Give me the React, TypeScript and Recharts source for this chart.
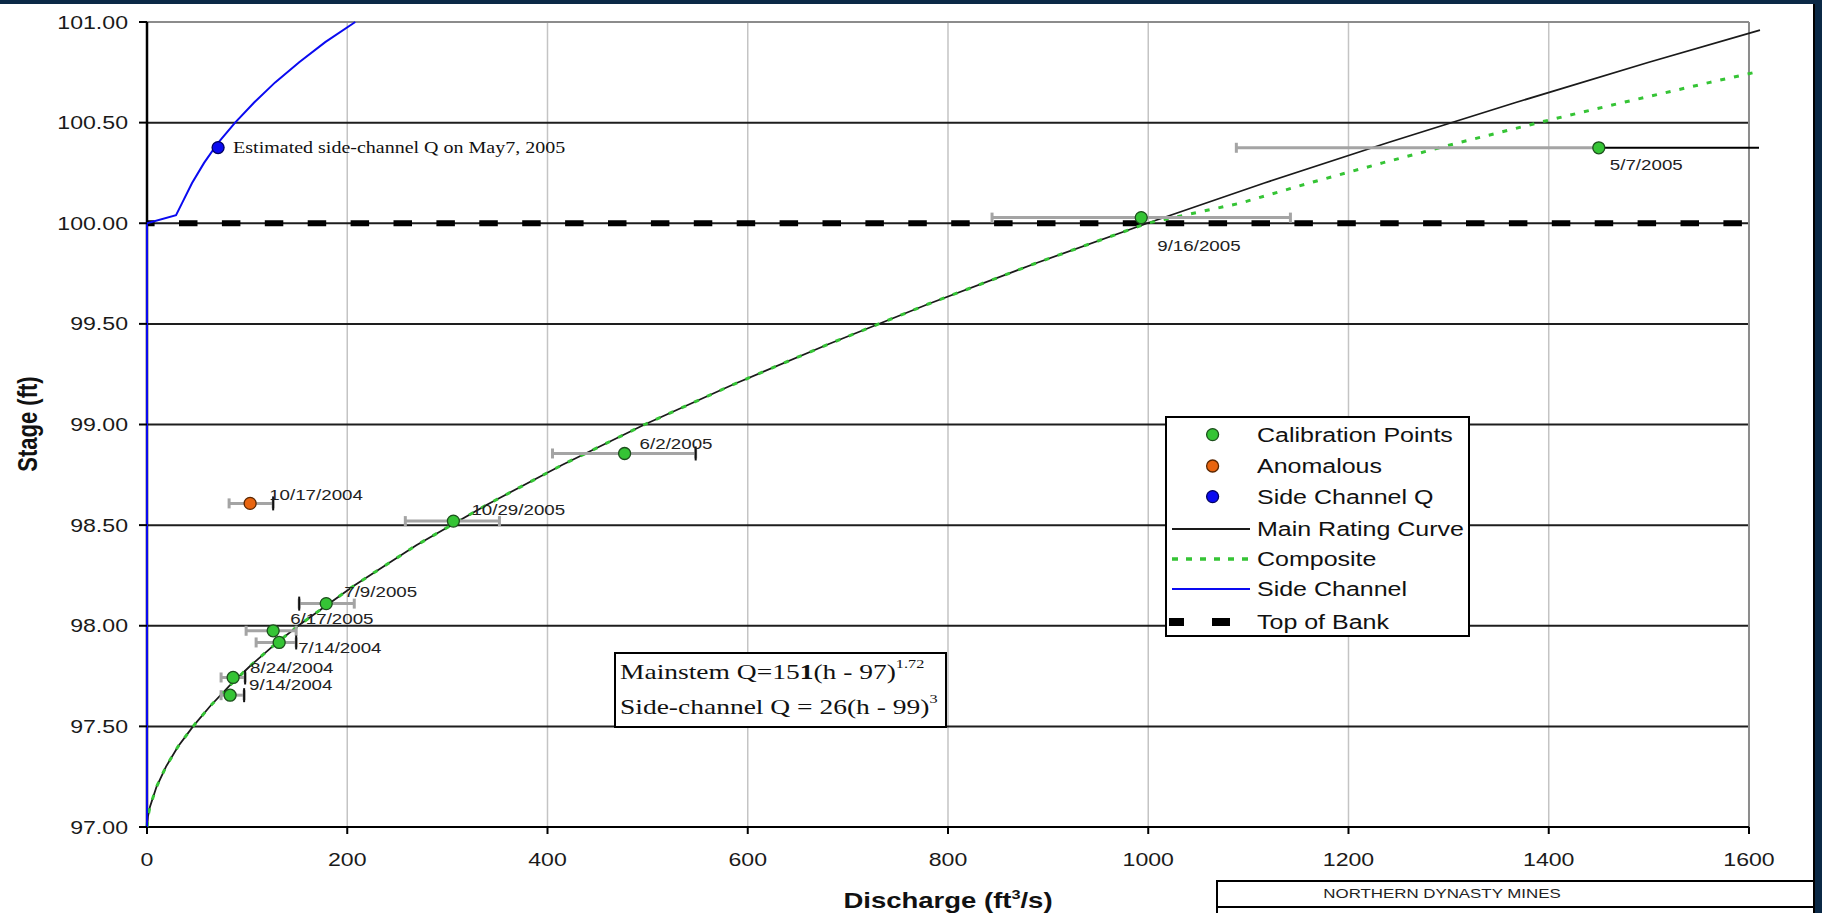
import React from 'react';
import { ComposedChart, Line, Scatter, XAxis, YAxis, ErrorBar } from 'recharts';

// ---------- axis ticks ----------
const xTicks = [0, 200, 400, 600, 800, 1000, 1200, 1400, 1600];
const yTicks = [97, 97.5, 98, 98.5, 99, 99.5, 100, 100.5, 101];

// ---------- Main rating curve ----------
const mainStage = [97.0, 97.05, 97.1, 97.2, 97.3, 97.4, 97.5, 97.6, 97.7, 97.8, 97.9, 98.0, 98.2, 98.4, 98.6, 98.8, 99.0, 99.2, 99.4, 99.6, 99.8, 100.0, 100.2, 100.4, 100.6, 100.8, 100.96];
const mainQ = [0, 0.9, 2.9, 9.5, 19, 31, 46, 63, 82, 103, 126, 151, 207, 269, 339, 415, 497, 586, 681, 781, 887, 999, 1116, 1239, 1367, 1500, 1611];

// ---------- Composite curve ----------
const compStage = [97.0, 97.05, 97.1, 97.2, 97.3, 97.4, 97.5, 97.6, 97.7, 97.8, 97.9, 98.0, 98.2, 98.4, 98.6, 98.8, 99.0, 99.2, 99.4, 99.6, 99.8, 100.0, 100.1, 100.2, 100.3, 100.4, 100.5, 100.6, 100.7, 100.75];
const compQ = [0, 0.9, 2.9, 9.5, 19, 31, 46, 63, 82, 103, 126, 151, 207, 269, 339, 415, 497, 586, 681, 781, 887, 999, 1092, 1161, 1234, 1310, 1390, 1474, 1561, 1606];

// ---------- Side channel curve ----------
const sideStage = [97.0, 100.0, 100.04, 100.1, 100.2, 100.3, 100.4, 100.5, 100.6, 100.7, 100.8, 100.9, 101.0];
const sideQ = [0, 0, 29, 35, 45, 57, 71, 88, 107, 128, 152, 178, 208];

// ---------- Top of bank ----------
const bankQ = [0, 1600];
const bankStage = 100.0;

// ---------- Calibration points ----------
const calLabels = ['9/14/2004', '8/24/2004', '7/14/2004', '6/17/2005', '7/9/2005', '10/29/2005', '6/2/2005', '9/16/2005', '5/7/2005'];
const calQ = [83, 86, 132, 126, 179, 306, 477, 993, 1450];
const calStage = [97.655, 97.743, 97.917, 97.975, 98.11, 98.52, 98.856, 100.028, 100.375];
const calQLow = [74, 74, 109, 99, 152, 258, 405, 844, 1088];
const calQHigh = [97, 98, 149, 149, 207, 352, 548, 1142, 1450];
const mayTailQ = [1450, 1610];
const mayTailStage = 100.375;

// ---------- Anomalous ----------
const anomLabels = ['10/17/2004'];
const anomQ = [103];
const anomStage = [98.608];
const anomQLow = [82];
const anomQHigh = [126];

// ---------- Black end caps seen on some error bars ----------
const capQ = [152, 149, 98, 97, 548, 126];
const capStage = [98.11, 97.917, 97.743, 97.655, 98.856, 98.608];

// ---------- Side channel Q ----------
const sideQLabels = ['Estimated side-channel Q on May7, 2005'];
const sidePtQ = [71];
const sidePtStage = [100.376];

// ---------- styles ----------
const SANS = "'Liberation Sans', Arial, Helvetica, sans-serif";
const SERIF = "'Liberation Serif', 'Times New Roman', serif";
const SX = 1.25;
const NAVY = '#0b2946';
const GREEN = '#35c435';
const ORANGE = '#e8640f';
const BLUE = '#0a0af0';

const labelOffsets: Record<string, [number, number]> = {
  '9/14/2004': [19, -11],
  '8/24/2004': [17, -10],
  '7/14/2004': [19, 5],
  '6/17/2005': [17, -12],
  '7/9/2005': [18, -12],
  '10/29/2005': [18, -12],
  '6/2/2005': [15, -10],
  '9/16/2005': [16, 28],
  '5/7/2005': [11, 17],
  '10/17/2004': [19, -9],
};

// ---------- built tables ----------
const toLine = (qs: number[], hs: number[]) => qs.map((q, i) => ({ q, h: hs[i] }));
const mainData = toLine(mainQ, mainStage);
const compData = toLine(compQ, compStage);
const sideData = toLine(sideQ, sideStage);
const bankData = bankQ.map((q) => ({ q, h: bankStage }));
const mayTail = mayTailQ.map((q) => ({ q, h: mayTailStage }));
const calData = calQ.map((q, i) => ({ q, h: calStage[i], label: calLabels[i], err: [q - calQLow[i], calQHigh[i] - q] }));
const anomData = anomQ.map((q, i) => ({ q, h: anomStage[i], label: anomLabels[i], err: [q - anomQLow[i], anomQHigh[i] - q] }));
const capData = toLine(capQ, capStage);
const sidePtData = sidePtQ.map((q, i) => ({ q, h: sidePtStage[i], label: sideQLabels[i] }));

const xMax = xTicks[xTicks.length - 1];
const yMin = yTicks[0];
const yMax = yTicks[yTicks.length - 1];
const vGrid = xTicks.slice(1, -1).map((q) => [{ q, h: yMin }, { q, h: yMax }]);
const hGrid = yTicks.slice(1, -1).map((h) => [{ q: 0, h }, { q: xMax, h }]);
const topBorder = [{ q: 0, h: yMax }, { q: xMax, h: yMax }];
const rightBorder = [{ q: xMax, h: yMin }, { q: xMax, h: yMax }];
const yAxisLine = [{ q: 0, h: yMin }, { q: 0, h: yMax }];
const xAxisLine = [{ q: 0, h: yMin }, { q: xMax, h: yMin }];

const ST = ({ x, y, size, anchor = 'start', weight = 'normal', family = SANS, fill = '#111', children }: any) => (
  <text transform={`translate(${x},${y}) scale(${SX},1)`} fontSize={size} textAnchor={anchor} fontWeight={weight} fontFamily={family} fill={fill}>
    {children}
  </text>
);

const XTick = (p: any) => (
  <g transform={`translate(${p.x},${p.y})`}>
    <text transform={`scale(${SX},1)`} textAnchor="middle" dy="0.71em" fontSize={18.5} fontFamily={SANS} fill="#1a1a1a">
      {p.payload.value}
    </text>
  </g>
);

const YTick = (p: any) => (
  <g transform={`translate(${p.x},${p.y})`}>
    <text transform={`scale(${SX},1)`} textAnchor="end" dy="0.355em" fontSize={18.5} fontFamily={SANS} fill="#1a1a1a">
      {Number(p.payload.value).toFixed(2)}
    </text>
  </g>
);

const Dot = (fill: string, stroke: string) => (p: any) => {
  const { cx, cy, payload } = p;
  if (cx == null || cy == null) return <g />;
  const off = labelOffsets[payload.label];
  return (
    <g>
      <circle cx={cx} cy={cy} r={6} fill={fill} stroke={stroke} strokeWidth={1.3} />
      {off && (
        <ST x={cx + off[0]} y={cy + off[1] + 5.4} size={15} fill="#222">
          {payload.label}
        </ST>
      )}
    </g>
  );
};

const CapMark = (p: any) => {
  const { cx, cy } = p;
  if (cx == null || cy == null) return <g />;
  return <line x1={cx} x2={cx} y1={cy - 7} y2={cy + 7} stroke="#111" strokeWidth={2} />;
};

const SideDot = (p: any) => {
  const { cx, cy, payload } = p;
  if (cx == null || cy == null) return <g />;
  return (
    <g>
      <circle cx={cx} cy={cy} r={6} fill={BLUE} stroke="#000060" strokeWidth={1.3} />
      <ST x={cx + 15} y={cy + 5} size={16} family={SERIF} fill="#111">
        {payload.label}
      </ST>
    </g>
  );
};

const lineCommon = { dot: false, activeDot: false, isAnimationActive: false, legendType: 'none' as const, type: 'linear' as const, dataKey: 'h' };

export default function App() {
  return (
    <div style={{ position: 'absolute', left: 0, top: 0, width: 1822, height: 913, background: NAVY, overflow: 'hidden' }}>
      <div style={{ position: 'absolute', left: 0, top: 4, width: 1814, height: 909, background: '#fff' }} />
      <div style={{ position: 'absolute', left: 1813, top: 4, width: 2, height: 909, background: '#000' }} />
      <div style={{ position: 'absolute', left: 0, top: 0 }}>
        <ComposedChart width={1822} height={913} margin={{ top: 22, right: 61, bottom: 56, left: 0 }}>
          <XAxis
            type="number"
            dataKey="q"
            domain={[0, 1612]}
            ticks={xTicks}
            interval={0}
            height={30}
            tickSize={7}
            tickMargin={19}
            axisLine={false}
            tickLine={{ stroke: '#000', strokeWidth: 2 }}
            tick={(p: any) => <XTick {...p} />}
          />
          <YAxis
            type="number"
            dataKey="h"
            domain={[97, 101]}
            ticks={yTicks}
            interval={0}
            width={147}
            tickSize={8}
            tickMargin={11}
            axisLine={false}
            tickLine={{ stroke: '#000', strokeWidth: 2 }}
            tick={(p: any) => <YTick {...p} />}
          />
          {vGrid.map((d, i) => (
            <Line key={'v' + i} {...lineCommon} data={d} stroke="#c4c4c4" strokeWidth={1.5} />
          ))}
          {hGrid.map((d, i) => (
            <Line key={'h' + i} {...lineCommon} data={d} stroke="#1e1e1e" strokeWidth={2} />
          ))}
          <Line {...lineCommon} data={topBorder} stroke="#8c8c8c" strokeWidth={2} />
          <Line {...lineCommon} data={rightBorder} stroke="#8c8c8c" strokeWidth={2} />
          <Line {...lineCommon} data={yAxisLine} stroke="#000" strokeWidth={2.5} />
          <Line {...lineCommon} data={xAxisLine} stroke="#000" strokeWidth={2} />
          <Line {...lineCommon} data={bankData} stroke="#000" strokeWidth={6} strokeDasharray="18.5 24.4" strokeDashoffset={10.9} />
          <Line {...lineCommon} data={mainData} stroke="#1a1a1a" strokeWidth={1.8} />
          <Line {...lineCommon} data={compData} stroke={GREEN} strokeWidth={3} strokeDasharray="5 9" />
          <Line {...lineCommon} data={sideData} stroke={BLUE} strokeWidth={2} />
          <Line {...lineCommon} data={mayTail} stroke="#000" strokeWidth={2} />
          <Scatter data={calData} isAnimationActive={false} legendType="none" shape={() => <g />}>
            <ErrorBar dataKey="err" direction="x" width={5} stroke="#a4a4a4" strokeWidth={3} isAnimationActive={false} />
          </Scatter>
          <Scatter data={anomData} isAnimationActive={false} legendType="none" shape={() => <g />}>
            <ErrorBar dataKey="err" direction="x" width={5} stroke="#a4a4a4" strokeWidth={3} isAnimationActive={false} />
          </Scatter>
          <Scatter data={capData} isAnimationActive={false} legendType="none" shape={CapMark} />
          <Scatter data={calData} isAnimationActive={false} legendType="none" shape={Dot(GREEN, '#1c4f1c')} />
          <Scatter data={anomData} isAnimationActive={false} legendType="none" shape={Dot(ORANGE, '#5a2600')} />
          <Scatter data={sidePtData} isAnimationActive={false} legendType="none" shape={SideDot} />
        </ComposedChart>
      </div>
      <svg width={1822} height={913} style={{ position: 'absolute', left: 0, top: 0, pointerEvents: 'none' }}>
        {/* axis titles */}
        <text transform={`translate(27,424) scale(${SX},1) rotate(-90)`} textAnchor="middle" dy="0.35em" fontSize={22} fontWeight="bold" fontFamily={SANS} fill="#111">
          Stage (ft)
        </text>
        <ST x={948} y={908} size={22} anchor="middle" weight="bold">
          Discharge (ft<tspan fontSize={13} dy={-9}>3</tspan>
          <tspan dy={9}>/s)</tspan>
        </ST>

        {/* legend */}
        <rect x={1166} y={417} width={303} height={219} fill="#fff" stroke="#000" strokeWidth={2} />
        <circle cx={1212.6} cy={434.6} r={6} fill={GREEN} stroke="#1c4f1c" strokeWidth={1.3} />
        <ST x={1257} y={441.8} size={20}>Calibration Points</ST>
        <circle cx={1212.6} cy={466} r={6} fill={ORANGE} stroke="#5a2600" strokeWidth={1.3} />
        <ST x={1257} y={473.2} size={20}>Anomalous</ST>
        <circle cx={1212.6} cy={496.6} r={6} fill={BLUE} stroke="#000060" strokeWidth={1.3} />
        <ST x={1257} y={503.8} size={20}>Side Channel Q</ST>
        <line x1={1172} x2={1250} y1={529} y2={529} stroke="#1a1a1a" strokeWidth={2} />
        <ST x={1257} y={536.2} size={20}>Main Rating Curve</ST>
        <line x1={1172} x2={1250} y1={559} y2={559} stroke={GREEN} strokeWidth={3.5} strokeDasharray="6 8" />
        <ST x={1257} y={566.2} size={20}>Composite</ST>
        <line x1={1172} x2={1250} y1={589} y2={589} stroke={BLUE} strokeWidth={2} />
        <ST x={1257} y={596.2} size={20}>Side Channel</ST>
        <rect x={1169} y={618} width={15} height={8} fill="#000" />
        <rect x={1212} y={618} width={18} height={8} fill="#000" />
        <ST x={1257} y={629.2} size={20}>Top of Bank</ST>

        {/* equation box */}
        <rect x={615} y={653} width={331} height={74} fill="#fff" stroke="#000" strokeWidth={2} />
        <ST x={620} y={679} size={22} family={SERIF} fill="#111">
          Mainstem Q=15<tspan fontWeight="bold">1</tspan>(h - 97)<tspan fontSize={13} dy={-11}>1.72</tspan>
        </ST>
        <ST x={620} y={714} size={22} family={SERIF} fill="#111">
          Side-channel Q = 26(h - 99)<tspan fontSize={13} dy={-11}>3</tspan>
        </ST>

        {/* title block */}
        <line x1={1217} x2={1814} y1={881} y2={881} stroke="#000" strokeWidth={2} />
        <line x1={1217} x2={1814} y1={907} y2={907} stroke="#000" strokeWidth={2} />
        <line x1={1217} x2={1217} y1={880} y2={913} stroke="#000" strokeWidth={2} />
        <ST x={1442} y={898} size={13.5} anchor="middle" fill="#222">NORTHERN DYNASTY MINES</ST>
      </svg>
    </div>
  );
}
